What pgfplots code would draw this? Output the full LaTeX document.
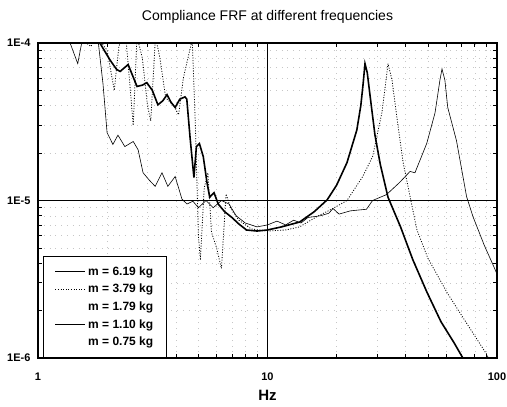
\documentclass[border=0pt]{standalone}
\usepackage{pgfplots}
\pgfplotsset{compat=1.18}
\usepackage{fontspec}
\setmainfont{Liberation Sans}
\begin{document}
\begin{tikzpicture}
\useasboundingbox (-38pt,-49pt) rectangle (469pt,358pt);
\begin{axis}[
  at={(0pt,0pt)}, anchor=south west,
  scale only axis, width=459pt, height=315pt,
  xmode=log, ymode=log,
  xmin=1, xmax=100, ymin=1e-6, ymax=1e-4,
  xtick={1,10,100}, xticklabels={\textbf{1},\textbf{10},\textbf{100}},
  ytick={1e-6,1e-5,1e-4}, yticklabels={\textbf{1E-6},\textbf{1E-5},\textbf{1E-4}},
  ticklabel style={font=\fontsize{11}{13}\selectfont},
  xticklabel style={anchor=base, yshift=-22pt},
  yticklabel style={xshift=-4pt},
  tick align=inside, major tick length=0pt, minor tick length=4pt,
  tick style={black, line width=0.8pt},
  grid=both,
  major grid style={black, line width=0.8pt},
  minor grid style={gray!45, line width=0.5pt, dash pattern=on 0.8pt off 5pt},
  axis line style={line width=1.3pt},
  title={Compliance FRF at different frequencies},
  title style={at={(0.5,1)}, anchor=base, yshift=17pt, font=\fontsize{14}{16}\selectfont},
  xlabel={\textbf{Hz}},
  xlabel style={at={(0.5,0)}, anchor=base, yshift=-42pt, font=\fontsize{15}{17}\selectfont},
  legend style={at={(rel axis cs:0.011,0.0)}, anchor=south west,
    font=\fontsize{12}{14}\selectfont\bfseries, draw=black, line width=1.1pt,
    cells={anchor=west}, row sep=3.5pt, inner xsep=11pt, inner ysep=8pt, fill=white},
  legend image code/.code={\draw[#1] (0pt,0pt) -- (30pt,0pt);},
]
% m = 6.19 kg
\addplot[black, line width=1.6pt] coordinates {
(1.5,1.3e-4) (1.86,1.0e-4) (2.06,7.8e-5) (2.2,6.8e-5) (2.28,6.6e-5) (2.47,7.3e-5)
(2.7,5.3e-5) (2.85,5.4e-5) (2.98,5.6e-5) (3.15,5.0e-5) (3.33,4.05e-5) (3.5,4.3e-5)
(3.65,4.7e-5) (3.8,4.2e-5) (3.96,3.9e-5) (4.15,4.4e-5) (4.37,4.55e-5) (4.45,4.4e-5)
(4.6,2.5e-5) (4.78,1.4e-5) (4.9,2.2e-5) (5.05,2.3e-5) (5.25,1.9e-5) (5.45,1.3e-5)
(5.6,1.05e-5) (5.85,1.12e-5) (6.1,9.5e-6) (6.5,8.5e-6) (7.0,7.8e-6) (7.5,7.1e-6)
(8.1,6.5e-6) (9,6.4e-6) (10,6.5e-6) (11.5,6.8e-6) (13.8,7.3e-6) (16,8.5e-6)
(18.2,1.01e-5) (20,1.25e-5) (22.2,1.74e-5) (24.5,2.8e-5) (25.5,4.0e-5) (26.1,5.5e-5)
(26.6,7.4e-5) (27.2,6.5e-5) (28,4.6e-5) (29.4,2.6e-5) (31,1.7e-5) (33.5,1.05e-5)
(38,6.8e-6) (43,4.2e-6) (49.5,2.62e-6) (57,1.7e-6) (65,1.25e-6) (71,1.0e-6) (75,9e-7)
};
\addlegendentry{m = 6.19 kg}
% m = 3.79 kg
\addplot[black, line width=0.8pt, dash pattern=on 1pt off 1.6pt] coordinates {
(1.2,1.15e-4) (1.5,1.1e-4) (1.7,9.5e-5) (1.8,1.1e-4) (2.0,9e-5) (2.15,5e-5)
(2.25,9.5e-5) (2.4,1.2e-4) (2.5,6e-5) (2.6,3.0e-5) (2.7,1.1e-4) (2.85,8e-5)
(3.0,4e-5) (3.1,3.2e-5) (3.25,1.1e-4) (3.4,8e-5) (3.6,4.5e-5) (3.9,4e-5)
(4.1,3.5e-5) (4.3,6e-5) (4.5,8e-5) (4.7,1.05e-4) (4.85,3e-5) (5.0,6e-6)
(5.1,4.2e-6) (5.3,1.2e-5) (5.5,1.5e-5) (5.7,6.3e-6) (6.0,5e-6) (6.3,3.7e-6)
(6.6,1.1e-5) (6.9,9e-6) (7.5,7.5e-6) (8.5,6.6e-6) (10,6.4e-6) (12,6.5e-6)
(13.8,6.8e-6) (16.4,7.9e-6) (19,8.8e-6) (22.2,1.0e-5) (26,1.42e-5) (28.7,1.9e-5)
(31.5,3.6e-5) (32.7,5.5e-5) (33.5,7.4e-5) (34.9,5.8e-5) (36.6,3.4e-5) (39,1.74e-5)
(41.8,1.06e-5) (44.8,6.5e-6) (50,4.3e-6) (60.6,2.6e-6) (75,1.6e-6) (90.4,1.05e-6) (95,9e-7)
};
\addlegendentry{m = 3.79 kg}
\addlegendimage{draw opacity=0}
\addlegendentry{m = 1.79 kg}
% m = 1.10 kg
\addplot[black, line width=0.6pt] coordinates {
(1.0,1.2e-4) (1.3,1.1e-4) (1.38,1.0e-4) (1.49,7.4e-5) (1.55,1.0e-4) (1.7,1.15e-4)
(1.83,1.02e-4) (1.92,5.5e-5) (2.0,2.7e-5) (2.12,2.27e-5) (2.23,2.6e-5) (2.39,2.2e-5)
(2.6,2.37e-5) (2.73,2.1e-5) (2.87,1.5e-5) (3.05,1.35e-5) (3.24,1.23e-5) (3.47,1.5e-5)
(3.68,1.23e-5) (3.96,1.42e-5) (4.24,1.02e-5) (4.46,9.5e-6) (4.73,9.9e-6) (5.0,9.0e-6)
(5.4,1.0e-5) (5.8,9.0e-6) (6.3,1.0e-5) (6.8,9.5e-6) (7.3,8e-6) (8,7.2e-6) (9,6.8e-6)
(10,7.0e-6) (11,7.4e-6) (12,7.0e-6) (13,7.5e-6) (14,7.2e-6) (15,7.8e-6) (17,8.0e-6)
(18.5,8.3e-6) (19.3,8.9e-6) (20.5,8.2e-6) (23,8.6e-6) (27,8.8e-6) (28.7,1.0e-5)
(33,1.09e-5) (37.6,1.3e-5) (41.8,1.53e-5) (43.9,1.5e-5) (49.4,2.3e-5) (53.7,3.6e-5)
(56.4,5.8e-5) (57.6,6.85e-5) (59.3,5.8e-5) (61,3.9e-5) (66.6,2.4e-5) (73.7,1.06e-5)
(78.6,7.9e-6) (88,5.2e-6) (98,3.66e-6) (100,3.4e-6)
};
\addlegendentry{m = 1.10 kg}
\addlegendimage{draw opacity=0}
\addlegendentry{m = 0.75 kg}
\end{axis}
\end{tikzpicture}
\end{document}
